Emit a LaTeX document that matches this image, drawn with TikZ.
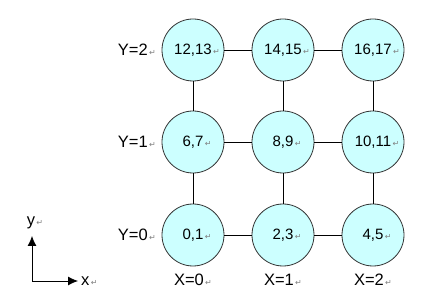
\documentclass[tikz,border=0pt]{standalone}
\usepackage{fontspec}
\setmainfont{Liberation Sans}
\newfontfamily\markfont{DejaVu Sans}
\usetikzlibrary{positioning, arrows.meta}
\definecolor{meshcyan}{RGB}{204,255,255}
\definecolor{meshline}{RGB}{50,50,50}
\newcommand{\pmark}{{\markfont\fontsize{8}{8}\selectfont\color{gray}\,↵}}

\begin{document}
\begin{tikzpicture}[x=1pt, y=-1pt,
    procnode/.style={circle, draw=meshline, line width=0.8pt, fill=meshcyan,
                     minimum size=62pt, inner sep=0pt,
                     font=\fontsize{15}{16}\selectfont},
    axislabel/.style={font=\fontsize{16.5}{18}\selectfont, inner sep=0pt},
    link/.style={draw=black, line width=0.7pt}]
    \useasboundingbox (0,0) rectangle (432,302);

    % processors, numbered row by row
    \foreach \col/\cx in {0/193, 1/283, 2/373} {
      \foreach \row/\cy in {0/235, 1/142, 2/50} {
        \pgfmathtruncatemacro{\lo}{6*\row+2*\col}
        \pgfmathtruncatemacro{\hi}{\lo+1}
        \node[procnode] (n\col\row) at (\cx,\cy) {\lo,\hi\rlap{\pmark}};
      }
    }

    % links
    \foreach \row in {0,1,2} {
      \draw[link] (n0\row) -- (n1\row);
      \draw[link] (n1\row) -- (n2\row);
    }
    \foreach \col in {0,1,2} {
      \draw[link] (n\col0) -- (n\col1);
      \draw[link] (n\col1) -- (n\col2);
    }

    % row and column labels
    \foreach \row/\cy in {0/235, 1/142, 2/50}
      \node[axislabel, anchor=east] (ylab\row) at (148,\cy) {Y=\row\rlap{\pmark}};
    \foreach \col/\cx in {0/193, 1/283, 2/373}
      \node[axislabel] (xlab\col) at (\cx,280) {X=\col\pmark};

    % direction key
    \coordinate (origin) at (32,281);
    \coordinate (ytip) at (32,236);
    \coordinate (xtip) at (78,281);
    \draw[line width=0.8pt, -{Latex[length=10pt, width=9pt]}] (origin) -- (ytip);
    \draw[line width=0.8pt, -{Latex[length=10pt, width=9pt]}] (origin) -- (xtip);
    \node[axislabel, anchor=south] (ylabel) at (31,229) {y\rlap{\pmark}};
    \node[axislabel, anchor=west] (xlabel) at (81,281) {x\pmark};
\end{tikzpicture}
\end{document}
